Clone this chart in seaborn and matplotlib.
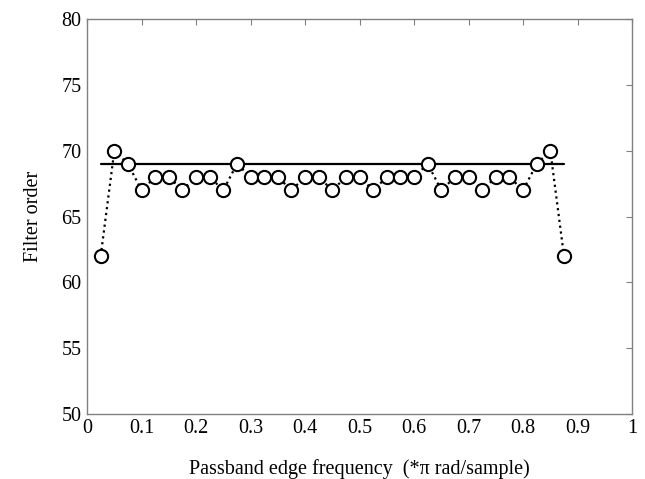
import numpy as np
import pandas as pd
import matplotlib.pyplot as plt
import seaborn as sns

# passband edge frequency (*pi rad/sample) and resulting filter order
freq = [0.025, 0.05, 0.075, 0.1, 0.125, 0.15, 0.175, 0.2, 0.225, 0.25,
        0.275, 0.3, 0.325, 0.35, 0.375, 0.4, 0.425, 0.45, 0.475, 0.5,
        0.525, 0.55, 0.575, 0.6, 0.625, 0.65, 0.675, 0.7, 0.725, 0.75,
        0.775, 0.8, 0.825, 0.85, 0.875]
order = [62, 70, 69, 67, 68, 68, 67, 68, 68, 67,
         69, 68, 68, 68, 67, 68, 68, 67, 68, 68,
         67, 68, 68, 68, 69, 67, 68, 68, 67, 68,
         68, 67, 69, 70, 62]
ref_order = 69

df = pd.DataFrame({"freq": freq, "order": order})
df["ref"] = ref_order

sns.set_style("white")
plt.rcParams["font.family"] = ["Liberation Serif", "DejaVu Serif"]
plt.rcParams["text.color"] = "black"
plt.rcParams["axes.labelcolor"] = "black"
plt.rcParams["xtick.labelcolor"] = "black"
plt.rcParams["ytick.labelcolor"] = "black"

fig = plt.figure(figsize=(6.45, 4.79), dpi=100)
ax = fig.add_axes([0.135, 0.136, 0.845, 0.824])

sns.lineplot(data=df, x="freq", y="ref", ax=ax, color="black", linewidth=1.6)
sns.lineplot(data=df, x="freq", y="order", ax=ax, color="black",
             linestyle=":", linewidth=1.6, marker="o", markersize=9.5,
             markerfacecolor="white", markeredgecolor="black",
             markeredgewidth=1.5)

ax.set_xlim(0, 1)
ax.set_ylim(50, 80)
ax.set_xticks(np.arange(0, 1.01, 0.1))
ax.set_xticklabels(["0", "0.1", "0.2", "0.3", "0.4", "0.5", "0.6", "0.7",
                    "0.8", "0.9", "1"])
ax.set_yticks(range(50, 81, 5))
ax.tick_params(direction="in", top=True, right=True, length=4,
               color="#808080", labelsize=14.5, pad=4)
for s in ax.spines.values():
    s.set_color("#808080")
    s.set_linewidth(1)

ax.set_xlabel("Passband edge frequency  (*\u03c0 rad/sample)", fontsize=14.5,
              labelpad=15)
ax.set_ylabel("Filter order", fontsize=14.5, labelpad=13)

plt.savefig("out.png", dpi=100)
